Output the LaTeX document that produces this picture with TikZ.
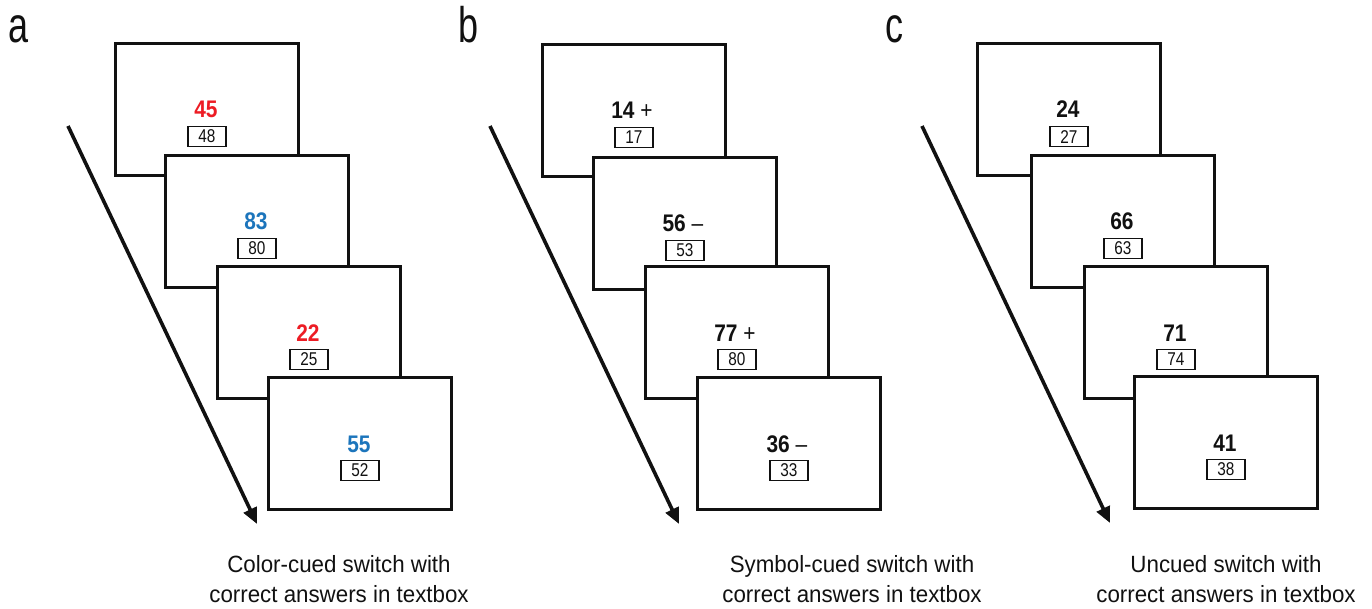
\documentclass[tikz,border=0pt]{standalone}
\usepackage{fontspec}
\setmainfont{Liberation Sans}
\newfontfamily\numfont{Liberation Sans}[FakeStretch=0.87]
\newfontfamily\ansfont{Liberation Sans}[FakeStretch=0.83]
\newfontfamily\capfont{Liberation Sans}[FakeStretch=0.95]
\newfontfamily\labfont{Liberation Sans}[FakeStretch=0.72]
\usetikzlibrary{arrows.meta,calc}
\definecolor{cuered}{HTML}{ED1C24}
\definecolor{cueblue}{HTML}{1C75BC}
\definecolor{ink}{HTML}{111111}
\tikzset{
  screen/.style={draw=ink, line width=2.8pt, fill=white, minimum width=183pt, minimum height=132pt, inner sep=0pt, anchor=north west},
  num/.style={inner sep=0pt, anchor=base, font=\numfont\fontsize{24}{28}\selectfont},
  ansbox/.style={draw=ink, line width=1.2pt, fill=white, minimum width=38pt, minimum height=20pt, inner sep=0pt, anchor=north, text=ink, font=\ansfont\fontsize{18.5}{20}\selectfont},
  timearrow/.style={draw=ink, line width=3.6pt, -{Triangle[length=16pt,width=14pt]}},
  caption/.style={align=center, inner sep=0pt, text=ink, font=\capfont\fontsize{23.5}{30}\selectfont},
  panellabel/.style={inner sep=0pt, anchor=base west, text=ink, font=\labfont\fontsize{50}{50}\selectfont}
}
\begin{document}
\begin{tikzpicture}[x=1pt,y=-1pt]
\useasboundingbox (0,0) rectangle (1372,609);
% panel labels
\node[panellabel] (la) at (8,43) {a};
\node[panellabel] (lb) at (458,43) {b};
\node[panellabel] (lc) at (885,43) {c};
% arrows
\coordinate (aS) at (68,126);  \coordinate (aE) at (257,524);
\coordinate (bS) at (490,126); \coordinate (bE) at (679,524);
\coordinate (cS) at (922,126); \coordinate (cE) at (1110,523);
\draw[timearrow] (aS) -- (aE);
\draw[timearrow] (bS) -- (bE);
\draw[timearrow] (cS) -- (cE);
% panel a
\foreach \i/\x/\y/\n/\r/\c in {1/114/42/45/48/cuered, 2/164/154/83/80/cueblue, 3/216/265/22/25/cuered, 4/267/376/55/52/cueblue}{
  \node[screen] (a\i) at (\x,\y) {};
  \node[num, text=\c] (an\i) at ($(a\i.north)+(-1,76)$) {\bfseries\n};
  \node[ansbox] (ar\i) at ($(a\i.north)+(0,84)$) {\r};
}
% panel b
\foreach \i/\x/\y/\n/\s/\r in {1/541/43/14/+/17, 2/592/156/56/–/53, 3/644/265/77/+/80, 4/696/376/36/–/33}{
  \node[screen] (b\i) at (\x,\y) {};
  \node[num, text=ink] (bn\i) at ($(b\i.north)+(-2,76)$) {{\bfseries\n} \s};
  \node[ansbox] (br\i) at ($(b\i.north)+(0,84)$) {\r};
}
% panel c
\foreach \i/\x/\y/\n/\r in {1/976/42/24/27, 2/1030/154/66/63, 3/1083/265/71/74, 4/1133/375/41/38}{
  \node[screen] (c\i) at (\x,\y) {};
  \node[num, text=ink] (cn\i) at ($(c\i.north)+(-1,76)$) {\bfseries\n};
  \node[ansbox] (cr\i) at ($(c\i.north)+(0,84)$) {\r};
}
% captions
\node[caption] (capa) at (339,579) {Color-cued switch with\\correct answers in textbox};
\node[caption] (capb) at (852,579) {Symbol-cued switch with\\correct answers in textbox};
\node[caption] (capc) at (1226,579) {Uncued switch with\\correct answers in textbox};
\end{tikzpicture}
\end{document}
